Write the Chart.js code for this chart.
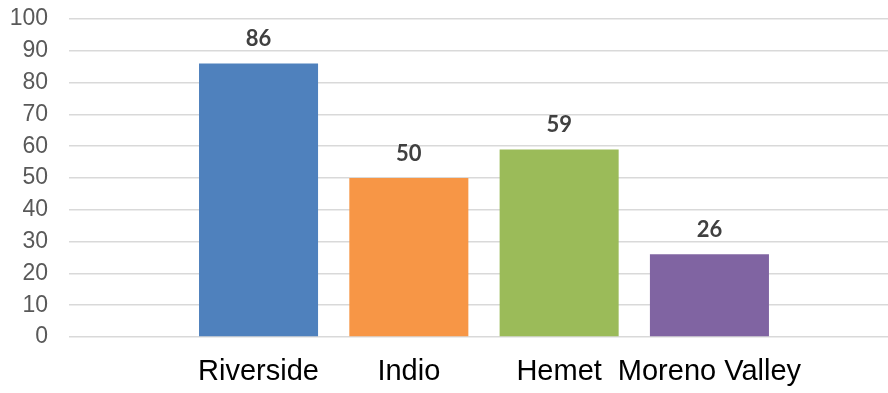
<!DOCTYPE html>
<html>
<head>
<meta charset="utf-8">
<script src="https://cdn.jsdelivr.net/npm/chart.js@4/dist/chart.umd.min.js"></script>
<style>
  html, body { margin: 0; padding: 0; background: #fff; }
  #wrap { width: 888px; height: 393px; }
</style>
</head>
<body>
<div id="wrap"><canvas id="chart" width="888" height="393"></canvas></div>
<script>
// ---------------- Data ----------------
const cities = ["Riverside", "Indio", "Hemet", "Moreno Valley"];
const counts = [86, 50, 59, 26];
const barColors = ["#4F81BD", "#F79646", "#9BBB59", "#8064A2"];
const yTicks = [0, 10, 20, 30, 40, 50, 60, 70, 80, 90, 100];

// bars sit at x = 1..4 on a linear axis
const points = counts.map((v, i) => ({ x: i + 1, y: v }));

// ---------------- Value labels ----------------
const valueLabels = {
  id: "valueLabels",
  afterDatasetsDraw(chart) {
    const ctx = chart.ctx;
    const meta = chart.getDatasetMeta(0);
    ctx.save();
    ctx.font = "bold 22px Lato";
    ctx.fillStyle = "#404040";
    ctx.textAlign = "center";
    ctx.textBaseline = "alphabetic";
    meta.data.forEach((bar, i) => {
      ctx.fillText(String(counts[i]), bar.x, bar.y - 17.5);
    });
    ctx.restore();
  }
};

new Chart(document.getElementById("chart"), {
  type: "bar",
  data: {
    datasets: [{
      data: points,
      backgroundColor: barColors,
      barPercentage: 0.792,
      categoryPercentage: 1
    }]
  },
  options: {
    responsive: false,
    animation: false,
    layout: { padding: { top: 19, right: 0, left: 0, bottom: 0 } },
    plugins: { legend: { display: false }, tooltip: { enabled: false } },
    scales: {
      x: {
        type: "linear",
        offset: false,
        min: -0.261,
        max: 5.188,
        grid: { display: false, offset: false },
        border: { display: false },
        afterBuildTicks(scale) {
          scale.ticks = cities.map((c, i) => ({ value: i + 1 }));
        },
        afterFit(scale) { scale.height = 56; },
        ticks: {
          autoSkip: false,
          maxRotation: 0,
          padding: 10,
          color: "#000000",
          font: { family: "Liberation Sans", size: 29 },
          callback: (v) => cities[v - 1] || ""
        }
      },
      y: {
        min: 0,
        max: 100,
        afterBuildTicks(scale) {
          scale.ticks = yTicks.map(v => ({ value: v }));
        },
        afterFit(scale) { scale.width = 69; },
        border: { display: false },
        grid: {
          color: "#D9D9D9",
          lineWidth: 1.5,
          drawTicks: true,
          tickLength: 21,
          tickColor: "rgba(0,0,0,0)"
        },
        ticks: {
          padding: 0,
          color: "#595959",
          font: { family: "Liberation Sans", size: 23 }
        }
      }
    }
  },
  plugins: [valueLabels]
});
</script>
</body>
</html>
